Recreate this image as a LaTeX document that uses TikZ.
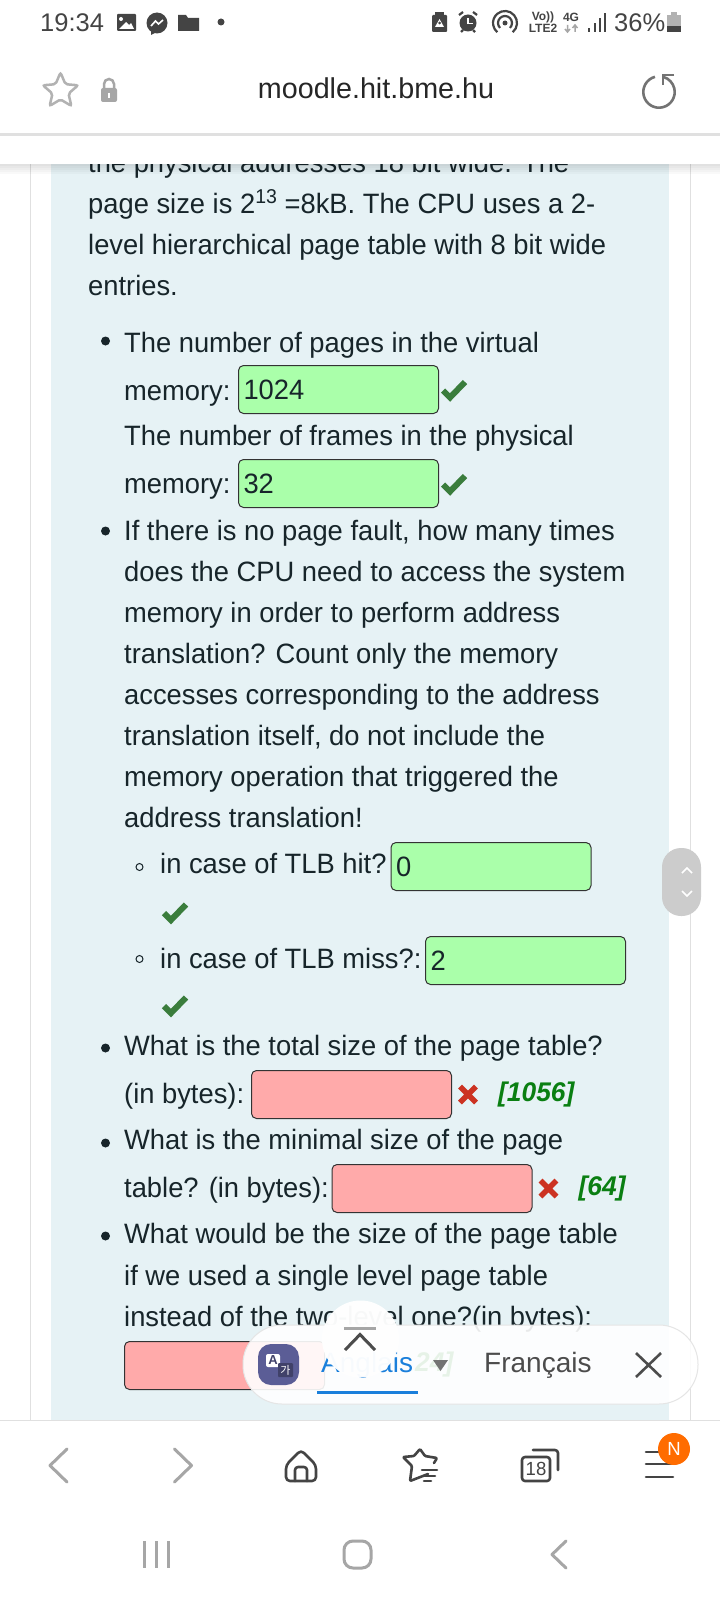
\documentclass[tikz,border=0pt]{standalone}
\usepackage{fontspec}
\setmainfont[FakeStretch=0.976]{Liberation Sans}
\newfontfamily\plainfont{Liberation Sans}
\newfontfamily\krfont{Noto Sans CJK KR}
\usepackage{xcolor}
\usetikzlibrary{shapes.geometric}
\usetikzlibrary{positioning}
\definecolor{inktext}{HTML}{17252A}
\definecolor{panelblue}{HTML}{E6F2F5}
\definecolor{okgreen}{HTML}{AAFFAA}
\definecolor{badred}{HTML}{FFAAAA}
\definecolor{tickgreen}{HTML}{3A7D3C}
\definecolor{crossred}{HTML}{CC3322}
\definecolor{answergreen}{HTML}{0A7F12}
\definecolor{icondark}{HTML}{444444}
\definecolor{icongray}{HTML}{A6A6A6}
\definecolor{linkblue}{HTML}{1A7FDB}
\definecolor{transviolet}{HTML}{5B5D96}
\tikzstyle{textline} = [anchor=base west, inner sep=0pt, text=inktext,
    font=\fontsize{28}{34}\selectfont]
\tikzstyle{barlang} = [anchor=base west, inner sep=0pt, font=\plainfont\fontsize{28}{34}\selectfont]
\tikzstyle{answerbox} = [rectangle, draw=black!80, line width=1pt, rounded corners=5pt,
    anchor=north west, minimum width=200pt, minimum height=48pt, inner xsep=5pt, inner ysep=0pt,
    text=inktext, text width=190pt, align=left, font=\fontsize{28}{34}\selectfont]
\tikzstyle{okbox} = [answerbox, fill=okgreen]
\tikzstyle{badbox} = [answerbox, fill=badred]
\tikzstyle{answer} = [inner sep=0pt, text=answergreen, font=\fontsize{27}{34}\selectfont\bfseries\itshape]
\tikzstyle{statustext} = [inner sep=0pt, text=icondark, font=\plainfont\fontsize{25.5}{30}\selectfont]
\tikzstyle{tinytext} = [inner sep=0pt, text=icondark, font=\plainfont\fontsize{12}{12}\selectfont\bfseries]
\tikzstyle{toolline} = [draw=icondark, line width=2.6pt, line cap=round, line join=round]
\tikzstyle{grayline} = [draw=icongray, line width=3pt, line cap=round, line join=round]
\tikzset{
  tickmark/.pic={\draw [draw=tickgreen, line width=6pt] (-11,1) -- (-4,8) -- (11,-7.5);},
  crossmark/.pic={\draw [draw=crossred, line width=5.5pt] (-8,-8) -- (8,8) (8,-8) -- (-8,8);}
}
\begin{document}
\begin{tikzpicture}[x=1pt, y=-1pt]
    \useasboundingbox (0,0) rectangle (720,1600);
    \fill [white] (0,0) rectangle (720,1600);

    % Page behind the bars
    \draw [black!12, line width=1pt] (30,164) -- (30,1420) (690,164) -- (690,1420);
    \fill [panelblue] (50.5,164) rectangle (669,1420);

    % Question text
    \node [textline] (intro0) at (88,172) {the physical addresses 18 bit wide. The};
    \node [textline] (intro1) at (88,213) {page size is 2\raisebox{10pt}{\fontsize{20}{20}\selectfont 13} =8kB. The CPU uses a 2-};
    \node [textline] (intro2) at (88,254) {level hierarchical page table with 8 bit wide};
    \node [textline] (intro3) at (88,295) {entries.};

    \node [textline] (q1a) at (124,352) {The number of pages in the virtual};
    \node [textline] (q1b) at (124,400) {memory:};
    \node [okbox] (boxpages) at (238,365) {1024};
    \node [textline] (q1c) at (124,445) {The number of frames in the physical};
    \node [textline] (q1d) at (124,493) {memory:};
    \node [okbox] (boxframes) at (238,459) {32};
    \coordinate [right=15pt of boxpages] (tickpages);
    \coordinate [right=15pt of boxframes] (tickframes);
    \pic at (tickpages) {tickmark};
    \pic at (tickframes) {tickmark};

    \node [textline] (q2a) at (124,540) {If there is no page fault, how many times};
    \node [textline] (q2b) at (124,581) {does the CPU need to access the system};
    \node [textline] (q2c) at (124,622) {memory in order to perform address};
    \node [textline] (q2d) at (124,663) {translation? Count only the memory};
    \node [textline] (q2e) at (124,704) {accesses corresponding to the address};
    \node [textline] (q2f) at (124,745) {translation itself, do not include the};
    \node [textline] (q2g) at (124,786) {memory operation that triggered the};
    \node [textline] (q2h) at (124,827) {address translation!};

    \node [textline] (hit) at (160,873) {in case of TLB hit?};
    \node [okbox] (boxhit) at (390.5,842) {0};
    \coordinate (tickhit) at (175,912);
    \pic at (tickhit) {tickmark};
    \node [textline] (miss) at (160,968) {in case of TLB miss?:};
    \node [okbox] (boxmiss) at (425,936) {2};
    \coordinate (tickmiss) at (175,1005);
    \pic at (tickmiss) {tickmark};

    \node [textline] (q3a) at (124,1055) {What is the total size of the page table?};
    \node [textline] (q3b) at (124,1103) {(in bytes):};
    \node [badbox] (boxtotal) at (251,1070) {};
    \coordinate [right=16pt of boxtotal] (crosstotal);
    \pic at (crosstotal) {crossmark};
    \node [answer, right=46pt of boxtotal] (anstotal) {[1056]};

    \node [textline] (q4a) at (124,1149) {What is the minimal size of the page};
    \node [textline] (q4b) at (124,1197) {table? (in bytes):};
    \node [badbox] (boxminimal) at (331.5,1164) {};
    \coordinate [right=16pt of boxminimal] (crossminimal);
    \pic at (crossminimal) {crossmark};
    \node [answer, right=46pt of boxminimal] (ansminimal) {[64]};

    \node [textline] (q5a) at (124,1243) {What would be the size of the page table};
    \node [textline] (q5b) at (124,1285) {if we used a single level page table};
    \node [textline] (q5c) at (124,1326) {instead of the two-level one?(in bytes):};
    \node [badbox] (boxsingle) at (124,1341) {};
    \node [answer, anchor=west] (anssingle) at (415,1365) {24]};

    % List bullets
    \foreach \y in {341,531,1048,1143,1236}
        \fill [inktext] (105.5,\y) circle (4.5pt);
    \foreach \y in {867,959}
        \draw [inktext, line width=1pt] (139.5,\y) circle (3.5pt);

    % Scroll handle
    \fill [black!20, rounded corners=19pt] (662,848) rectangle (701,916);
    \draw [white, line width=1.6pt] (682,873) -- (687,868) -- (692,873);
    \draw [white, line width=1.6pt] (682,891) -- (687,896) -- (692,891);

    % Top bars
    \fill [white] (0,0) rectangle (720,164);
    \foreach \i in {1,...,5}
        \fill [black, opacity=0.025] (0,164) rectangle (720,164+\i*2);
    \fill [black!12] (0,133) rectangle (720,136);

    \node [statustext, anchor=base west] (clock) at (40,32) {19:34};
    \fill [icondark, rounded corners=1pt] (117,14) rectangle (136,31);
    \fill [white] (121,19) circle (2pt);
    \fill [white] (119,29) -- (126,22) -- (129,25) -- (131,23) -- (134,29) -- cycle;
    \fill [icondark] (157,23) circle (10.5pt);
    \fill [icondark] (151,30) -- (151,35) -- (157,32) -- cycle;
    \draw [white, line width=1.6pt] (151,26) -- (155.5,21) -- (158.5,24) -- (163,20);
    \fill [icondark] (178,15) -- (186,15) -- (188,18) -- (199,18) -- (199,31) -- (178,31) -- cycle;
    \fill [icondark] (221,22) circle (3.5pt);

    \fill [icondark, rounded corners=1pt] (432,15) rectangle (447,32);
    \fill [icondark] (435,12) rectangle (444,16);
    \fill [white] (439.5,19) -- (444,27) -- (435,27) -- cycle;
    \fill [icondark] (439.5,23) circle (1.5pt);
    \fill [icondark] (468,23) circle (8.5pt);
    \draw [white, line width=1.4pt] (468,18) -- (468,23.5) -- (473,23.5);
    \draw [icondark, line width=2.2pt] (459,15) -- (463,12) (477,15) -- (473,12) (461,32) -- (463,30) (475,32) -- (473,30);
    \fill [icondark] (505,23) circle (2.5pt);
    \draw [icondark, line width=2.2pt] (505,23) ++(-45:7pt) arc [start angle=-45, end angle=225, radius=7pt];
    \draw [icondark, line width=2.2pt] (505,23) ++(-50:12pt) arc [start angle=-50, end angle=230, radius=12pt];
    \node [tinytext] (volte) at (543,17) {Vo))};
    \node [tinytext] (lte) at (543,28) {LTE2};
    \node [tinytext] (fourg) at (571,17) {4G};
    \draw [icongray, line width=1.5pt] (567.5,25) -- (567.5,32) (565,29) -- (567.5,32) -- (570,29);
    \draw [icongray, line width=1.5pt] (575,32) -- (575,25) (572.5,28) -- (575,25) -- (577.5,28);
    \foreach \x/\t in {588/28,594/23,599/18,604/13}
        \fill [icondark] (\x,\t) rectangle ++(2,32-\t);
    \node [statustext, anchor=base west] (percent) at (614,32) {36\%};
    \fill [black!30] (667,15) rectangle (681,26);
    \fill [black!30] (671,12) rectangle (677,15);
    \fill [icondark] (667,26) rectangle (681,32);

    \node [star, star points=5, star point ratio=2.2, draw=black!30, line width=2.5pt, rounded corners=2pt,
        minimum size=37pt, inner sep=0pt] (favstar) at (60.5,91) {};
    \draw [black!35, line width=2.5pt] (104,90) -- (104,84) arc [start angle=180, end angle=0, radius=5pt] -- (114,90);
    \fill [black!35, rounded corners=2pt] (101,88) rectangle (117,102);
    \fill [white] (108,93) rectangle (110,98);
    \node [anchor=base, inner sep=0pt, text=black!85, font=\plainfont\fontsize{28.7}{34}\selectfont] (address) at (376,99) {moodle.hit.bme.hu};
    \draw [black!55, line width=2.6pt] (659,92) ++(105:15.7pt) arc [start angle=105, end angle=432, radius=15.7pt];
    \draw [black!55, line width=2.6pt] (674,75) -- (663,75) -- (663,85);

    % Translate bar
    \fill [white, fill opacity=0.9, rounded corners=39pt] (243,1325) rectangle (698,1404);
    \draw [black!10, line width=1pt, rounded corners=39pt] (243,1325) rectangle (698,1404);
    \fill [transviolet, rounded corners=13pt] (258,1344) rectangle (299,1385);
    \fill [white, rounded corners=2pt] (266,1354) rectangle (280,1367);
    \fill [transviolet!70!black, rounded corners=1pt] (278,1363) rectangle (293,1377);
    \node [inner sep=0pt, text=transviolet!70!black, font=\plainfont\fontsize{13}{13}\selectfont\bfseries] (translatea) at (273,1360.5) {A};
    \node [inner sep=0pt, text=white, font=\krfont\fontsize{11}{11}\selectfont] (translateb) at (285.5,1370) {가};
    \node [barlang, text=linkblue] (fromlang) at (321,1372) {Anglais};
    \fill [linkblue] (317,1390.5) rectangle (418,1393.5);
    \fill [black!55] (433,1360) -- (448,1360) -- (440.5,1371) -- cycle;
    \node [barlang, text=black!70] (tolang) at (484,1372) {Français};
    \draw [black!70, line width=2.6pt] (636,1353) -- (661,1377) (661,1353) -- (636,1377);

    % Jump to top button
    \fill [white, fill opacity=0.97] (360.5,1339) circle (38.5pt);
    \fill [black!35] (344,1327) rectangle (376,1330);
    \draw [black!70, line width=3pt] (345,1350) -- (360,1334.5) -- (375,1350);

    % Bottom bars
    \fill [white] (0,1420) rectangle (720,1600);
    \draw [black!12, line width=1pt] (0,1420) -- (720,1420);
    \draw [grayline] (67,1449) -- (50,1465.5) -- (67,1482);
    \draw [grayline] (174.5,1449) -- (191.5,1465.5) -- (174.5,1482);
    \draw [toolline, rounded corners=4pt] (301,1450) -- (286,1465) -- (286,1481) -- (316,1481) -- (316,1465) -- cycle;
    \draw [toolline, rounded corners=3pt] (295,1481) -- (295,1467) -- (307,1467) -- (307,1481);
    \draw [toolline, rounded corners=1pt] (428,1474) -- (410,1481) -- (412,1466) -- (403,1457) -- (414,1456) -- (420,1449) -- (425,1456) -- (437,1458) -- (434,1463);
    \draw [toolline] (422,1470) -- (437,1470) (424,1476) -- (435,1476) (424,1481) -- (431,1481);
    \draw [toolline, rounded corners=3pt] (522,1457) rectangle (550,1481);
    \draw [toolline, rounded corners=3pt] (533,1450) -- (558,1450) -- (558,1470);
    \node [inner sep=0pt, text=icondark, font=\fontsize{19}{19}\selectfont] (tabcount) at (536,1469) {18};
    \draw [toolline] (646,1452) -- (673,1452) (646,1464) -- (673,1464) (646,1477) -- (673,1477);
    \node [circle, fill=orange!85!red, inner sep=0pt, minimum size=32pt, text=white, font=\fontsize{19}{19}\selectfont] (badge) at (674,1449) {N};

    \foreach \x in {144.6,156.6,168.5}
        \draw [icongray, line width=3pt] (\x,1541) -- (\x,1568);
    \draw [icongray, line width=3pt, rounded corners=9pt] (344,1541) rectangle (371,1568);
    \draw [icongray, line width=3pt, line cap=round, line join=round] (566,1541) -- (552,1554.5) -- (566,1568);
\end{tikzpicture}
\end{document}
